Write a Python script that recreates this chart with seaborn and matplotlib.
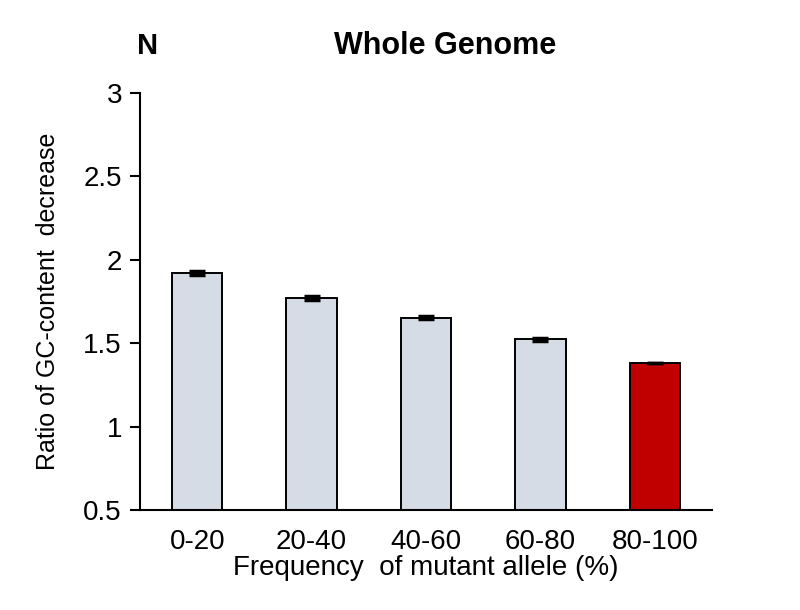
import matplotlib.pyplot as plt
import pandas as pd
import seaborn as sns

# values
bins = ['0-20', '20-40', '40-60', '60-80', '80-100']
ratio = [1.923, 1.768, 1.653, 1.523, 1.383]
err = [0.012, 0.012, 0.010, 0.010, 0.0]
bar_colors = ['#D6DCE5', '#D6DCE5', '#D6DCE5', '#D6DCE5', '#C00000']

sns.set_style('ticks')
plt.rcParams['font.family'] = ['Liberation Sans', 'DejaVu Sans']
plt.rcParams['text.color'] = 'black'
plt.rcParams['axes.labelcolor'] = 'black'
plt.rcParams['xtick.color'] = 'black'
plt.rcParams['ytick.color'] = 'black'

data = pd.DataFrame({'bin': bins, 'ratio': ratio})

fig = plt.figure(figsize=(8, 6.1), dpi=100)
ax = fig.add_axes([0.175, 0.164, 0.715, 0.6835])

sns.barplot(data=data, x='bin', y='ratio', hue='bin', palette=bar_colors,
            saturation=1, legend=False, width=0.44, edgecolor='black',
            linewidth=1.4, errorbar=None, ax=ax)
ax.errorbar(range(len(bins)), ratio, yerr=err, fmt='none', ecolor='black',
            elinewidth=1.5, capsize=6, capthick=2.5, zorder=3)

ax.set_xlim(-0.5, 4.5)
ax.set_ylim(0.5, 3)
ax.set_yticks([0.5, 1, 1.5, 2, 2.5, 3])
ax.set_yticklabels(['0.5', '1', '1.5', '2', '2.5', '3'])
ax.set_xlabel('Frequency  of mutant allele (%)', fontsize=20, labelpad=0)
ax.set_ylabel('Ratio of GC-content  decrease', fontsize=18, labelpad=17)
ax.tick_params(axis='x', length=0, labelsize=20, pad=14)
ax.tick_params(axis='y', length=7, width=1.5, labelsize=20, pad=6, direction='out')

sns.despine(ax=ax)
for side in ['left', 'bottom']:
    ax.spines[side].set_linewidth(1.5)
    ax.spines[side].set_color('black')

fig.text(0.556, 0.925, 'Whole Genome', ha='center', va='center',
         fontsize=22, fontweight='bold')
fig.text(0.184, 0.925, 'N', ha='center', va='center',
         fontsize=21, fontweight='bold')

fig.savefig('out.png', dpi=100)
